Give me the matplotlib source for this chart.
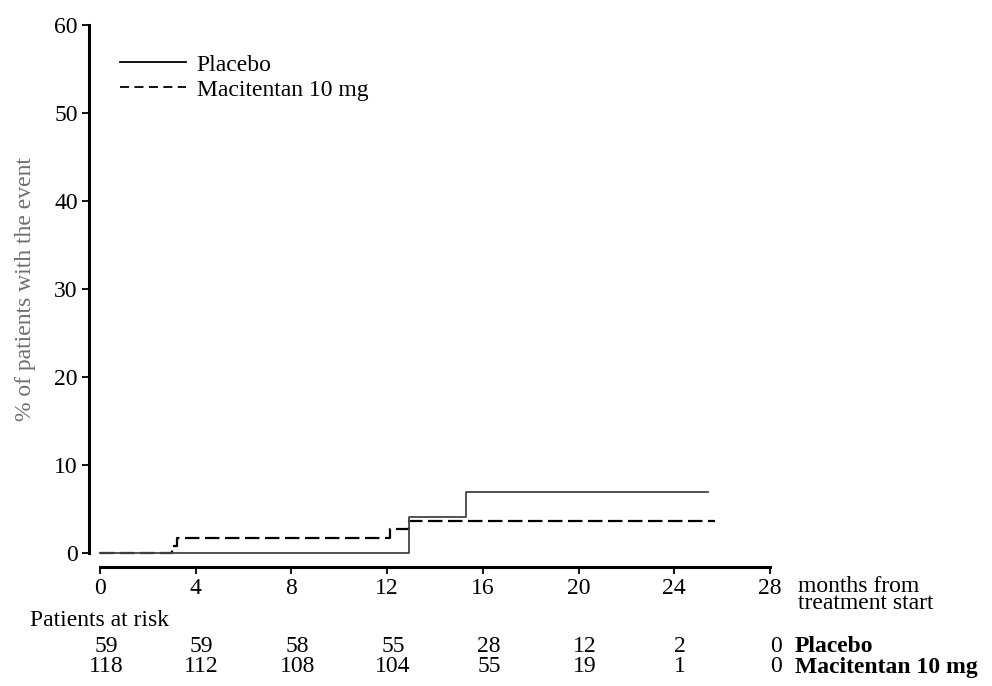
import matplotlib
matplotlib.use('Agg')
from matplotlib import pyplot as plt
from matplotlib.lines import Line2D
import matplotlib.transforms as mtransforms

plt.rcParams['font.family'] = ['Liberation Serif', 'DejaVu Serif']

# step curves (months, % with event)
placebo_t = [0, 12.9, 15.3, 25.4]
placebo_y = [0, 4.1, 6.9, 6.9]
macit_t = [0, 3.0, 3.2, 12.1, 12.9, 25.7]
macit_y = [0, 0.8, 1.7, 2.7, 3.6, 3.6]

months = [0, 4, 8, 12, 16, 20, 24, 28]
at_risk_placebo = [59, 59, 58, 55, 28, 12, 2, 0]
at_risk_macit = [118, 112, 108, 104, 55, 19, 1, 0]
yticks = [0, 10, 20, 30, 40, 50, 60]

W, H = 992, 686
fig = plt.figure(figsize=(W / 100, H / 100), dpi=100)
ax = fig.add_axes([100 / W, (H - 553) / H, 670 / W, 528 / H])

ax.plot(macit_t, macit_y, drawstyle='steps-post', color='black', lw=1.6,
        dashes=(6.5, 2.5), clip_on=False, zorder=2)
ax.plot(placebo_t, placebo_y, drawstyle='steps-post', color='#444444', lw=1.3,
        clip_on=False, zorder=3)

ax.set_xlim(0, 28)
ax.set_ylim(0, 60)
ax.set_xticks(months)
ax.set_yticks(yticks)
for s in ['top', 'right']:
    ax.spines[s].set_visible(False)
ax.spines['left'].set_position(('outward', 8))
ax.spines['bottom'].set_position(('outward', 10))
for s in ['left', 'bottom']:
    ax.spines[s].set_linewidth(2.2)
ax.tick_params(direction='out', length=5, width=1.3, labelsize=17, pad=3)
ax.set_ylabel('% of patients with the event', fontsize=17, color='#6e6e6e',
              labelpad=13)

handles = [Line2D([], [], color='black', lw=1.3),
           Line2D([], [], color='black', lw=1.3, dashes=(5, 3))]
ax.legend(handles, ['Placebo', 'Macitentan 10 mg'], loc='upper left',
          bbox_to_anchor=(0.03, 0.945), frameon=False, fontsize=17,
          handlelength=2.8, handletextpad=0.45, labelspacing=0.15,
          borderpad=0, borderaxespad=0)

# axis title at right end
fig.text(798 / W, 1 - 595 / H, 'months from\ntreatment start', fontsize=17,
         va='center', ha='left', linespacing=0.7)

# risk table
trans = mtransforms.blended_transform_factory(ax.transData, fig.transFigure)
fig.text(30 / W, 1 - 621 / H, 'Patients at risk', fontsize=17, va='center')
for m, p, q in zip(months, at_risk_placebo, at_risk_macit):
    ax.text(m + 0.25, 1 - 647 / H, str(p), transform=trans, ha='center',
            va='center', fontsize=17)
    ax.text(m + 0.25, 1 - 667 / H, str(q), transform=trans, ha='center',
            va='center', fontsize=17)
fig.text(795 / W, 1 - 647 / H, 'Placebo', fontsize=17, fontweight='bold',
         va='center')
fig.text(795 / W, 1 - 667 / H, 'Macitentan 10 mg', fontsize=17,
         fontweight='bold', va='center')

fig.savefig('out.png', dpi=100)
